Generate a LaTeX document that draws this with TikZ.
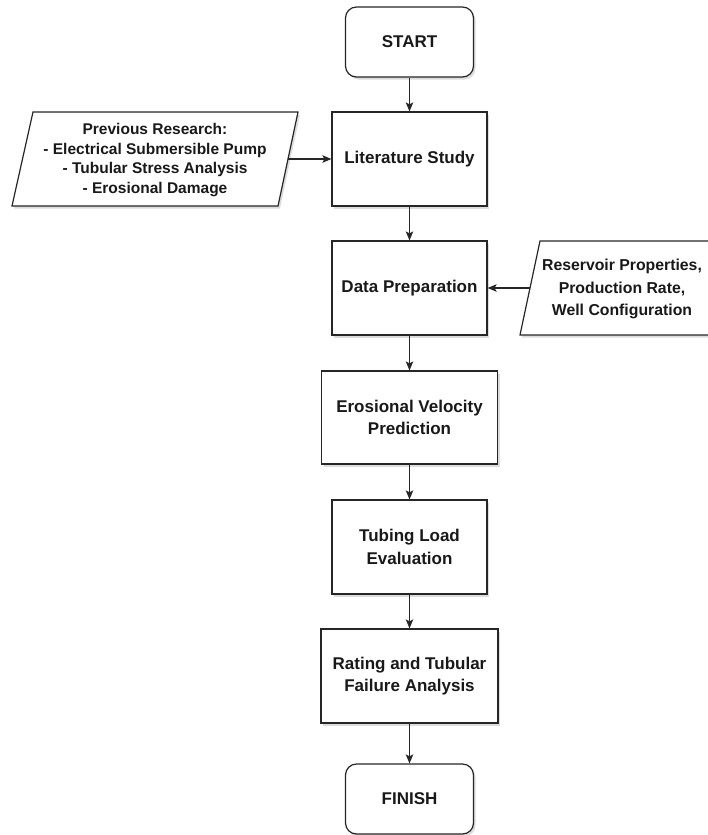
\documentclass[tikz,border=0pt]{standalone}
\usepackage{fontspec}
\setmainfont{Liberation Sans}
\usetikzlibrary{arrows.meta,shadows}
\begin{document}
\begin{tikzpicture}[x=1pt,y=-1pt,
  shad/.style={drop shadow={shadow xshift=2pt,shadow yshift=-2.5pt,fill=black!30,opacity=0.45}},
  stepbox/.style={draw=black!85,line width=1.2pt,fill=white,shad,inner sep=2pt,align=center,
    font=\fontsize{17}{22.7}\selectfont\bfseries,text=black!90},
  termbox/.style={stepbox,rounded corners=11pt},
  para/.style={draw=black!85,line width=1.2pt,fill=white,shad},
  paratext/.style={align=center,text=black!90,inner sep=0pt},
  arr/.style={draw=black!85,line width=1.2pt,-{Stealth[length=9pt,width=7.5pt,inset=2pt]}}
]
\useasboundingbox (0,0) rectangle (707,835);

\node[termbox,minimum width=128pt,minimum height=70pt] (start) at (409.5,42) {START};
\node[stepbox,minimum width=155pt,minimum height=94pt] (lit) at (409.5,159) {Literature Study};
\node[stepbox,minimum width=155pt,minimum height=94pt] (data) at (409.5,288) {Data Preparation};
\node[stepbox,minimum width=176pt,minimum height=93pt] (ero) at (409.5,417.5) {Erosional Velocity\\Prediction};
\node[stepbox,minimum width=155pt,minimum height=94pt] (tub) at (409.5,547) {Tubing Load\\Evaluation};
\node[stepbox,minimum width=177pt,minimum height=94pt] (rat) at (409.5,676) {Rating and Tubular\\Failure Analysis};
\node[termbox,minimum width=128pt,minimum height=70pt] (fin) at (409.5,799) {FINISH};

% left parallelogram
\draw[para] (33,112) -- (298,112) -- (278,206) -- (12,206) -- cycle;
\node[paratext,font=\fontsize{15.5}{19.7}\selectfont\bfseries] (prev) at (155,160)
  {Previous Research:\\- Electrical Submersible Pump\\- Tubular Stress Analysis\\- Erosional Damage};
\coordinate (prevR) at (288,159);

% right parallelogram
\draw[para] (540,241) -- (737,241) -- (717,335) -- (520,335) -- cycle;
\node[paratext,font=\fontsize{15.8}{22.5}\selectfont\bfseries] (res) at (622,289)
  {Reservoir Properties,\\Production Rate,\\Well Configuration};
\coordinate (resL) at (530,288);

\draw[arr] (start) -- (lit);
\draw[arr] (lit) -- (data);
\draw[arr] (data) -- (ero);
\draw[arr] (ero) -- (tub);
\draw[arr] (tub) -- (rat);
\draw[arr] (rat) -- (fin);
\draw[arr] (prevR) -- (lit.west);
\draw[arr] (resL) -- (data.east);
\end{tikzpicture}
\end{document}
